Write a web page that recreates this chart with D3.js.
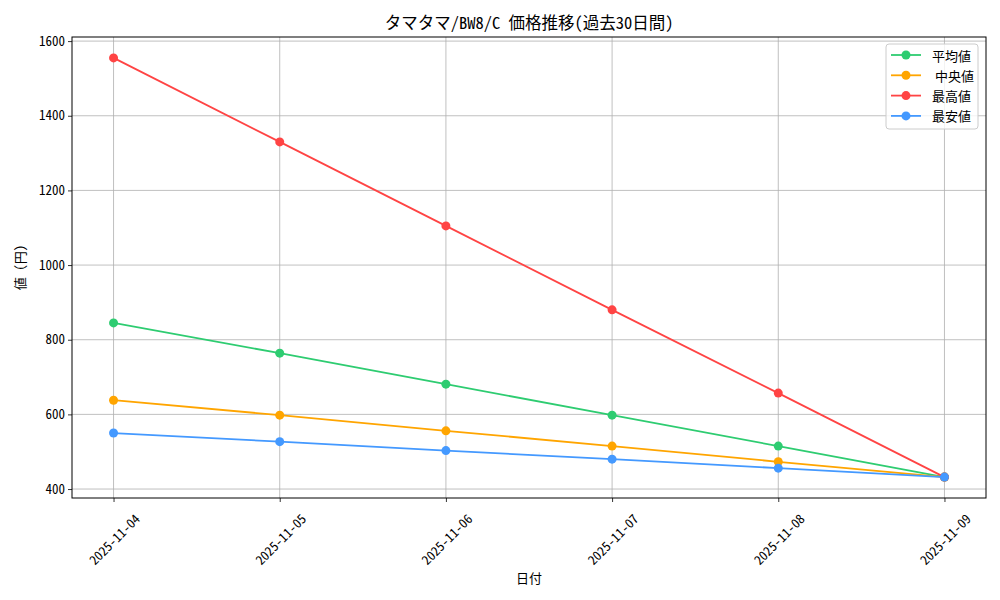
<!DOCTYPE html>
<html><head><meta charset="utf-8">
<script src="https://cdn.jsdelivr.net/npm/d3@7"></script>
<style>body{margin:0;background:#fff}svg{display:block}text{font-family:"Noto Sans CJK JP","DejaVu Sans",sans-serif;fill:#000}.hw{font-feature-settings:"hwid" 1}</style>
</head><body><svg id="c" width="1000" height="600"></svg>
<script>
const dates = ["2025-11-04","2025-11-05","2025-11-06","2025-11-07","2025-11-08","2025-11-09"];
const avgValues = [845, 764, 681, 598, 515, 432];
const medianValues = [638, 598, 556, 515, 473, 432];
const maxValues = [1555, 1330, 1105, 880, 657, 432];
const minValues = [550, 527, 503, 480, 456, 432];
const yTicks = [400, 600, 800, 1000, 1200, 1400, 1600];
const seriesNames = ["平均値", " 中央値", "最高値", "最安値"];
const seriesColors = ["#2ecc71", "#ffa500", "#ff4444", "#4499ff"];
const seriesValues = [avgValues, medianValues, maxValues, minValues];

const svg = d3.select("#c");
const L = 72, R = 986, T = 37, B = 498;
const FS = 13;
const x = d3.scaleLinear().domain([-0.25, dates.length - 1 + 0.25]).range([L, R]);
const y = d3.scaleLinear().domain([376, 1611]).range([B, T]);

// grid
const g = svg.append("g");
g.selectAll(".vg").data(dates).enter().append("line")
  .attr("x1", (d,i)=>x(i)).attr("x2", (d,i)=>x(i)).attr("y1", T).attr("y2", B)
  .attr("stroke", "#b0b0b0").attr("stroke-width", 0.8);
g.selectAll(".hg").data(yTicks).enter().append("line")
  .attr("x1", L).attr("x2", R).attr("y1", d=>y(d)).attr("y2", d=>y(d))
  .attr("stroke", "#b0b0b0").attr("stroke-width", 0.8);

// axes
const xAxis = d3.axisBottom(x).tickValues(d3.range(dates.length)).tickFormat(i=>dates[i]).tickSize(4).tickPadding(3);
const xg = svg.append("g").attr("transform", `translate(0,${B})`).call(xAxis);
xg.select(".domain").remove();
xg.selectAll(".tick line").attr("stroke", "#000").attr("stroke-width", 0.8);
xg.selectAll(".tick text").attr("class", "hw").attr("font-size", FS).attr("font-family", '"Noto Sans CJK JP"')
  .attr("text-anchor", "middle").attr("dy", null).attr("y", null)
  .attr("dominant-baseline", "central")
  .attr("transform", "translate(0,41) rotate(-45)");

const yAxis = d3.axisLeft(y).tickValues(yTicks).tickFormat(d3.format("d")).tickSize(4).tickPadding(3);
const yg = svg.append("g").attr("transform", `translate(${L},0)`).call(yAxis);
yg.select(".domain").remove();
yg.selectAll(".tick line").attr("stroke", "#000").attr("stroke-width", 0.8);
yg.selectAll(".tick text").attr("class", "hw").attr("font-size", FS).attr("font-family", '"Noto Sans CJK JP"');

svg.append("rect").attr("x", L).attr("y", T).attr("width", R-L).attr("height", B-T)
  .attr("fill", "none").attr("stroke", "#000").attr("stroke-width", 1);

// lines
const line = d3.line().x((d,i)=>x(i)).y(d=>y(d));
seriesValues.forEach((vals, k) => {
  svg.append("path").datum(vals).attr("d", line).attr("fill", "none")
    .attr("stroke", seriesColors[k]).attr("stroke-width", 1.8);
  svg.selectAll(null).data(vals).enter().append("circle")
    .attr("cx", (d,i)=>x(i)).attr("cy", d=>y(d)).attr("r", 4.5).attr("fill", seriesColors[k]);
});

// title & labels
svg.append("text").attr("class", "hw").attr("x", (L+R)/2).attr("y", 29).attr("text-anchor", "middle")
  .attr("font-size", 16.5).text("タマタマ/BW8/C 価格推移(過去30日間)");
svg.append("text").attr("x", (L+R)/2).attr("y", 583).attr("text-anchor", "middle")
  .attr("font-size", FS).text("日付");
svg.append("text").attr("class", "hw").attr("transform", `translate(25,${(T+B)/2}) rotate(-90)`).attr("text-anchor", "middle")
  .attr("font-size", FS).text("値 (円)");

// legend
const lg = svg.append("g");
lg.append("rect").attr("x", 886).attr("y", 44).attr("width", 92).attr("height", 85).attr("rx", 3)
  .attr("fill", "#fff").attr("fill-opacity", 0.8).attr("stroke", "#cccccc").attr("stroke-width", 1);
seriesNames.forEach((name, k) => {
  const yy = 55 + k * 20.3;
  lg.append("line").attr("x1", 891).attr("x2", 921).attr("y1", yy).attr("y2", yy)
    .attr("stroke", seriesColors[k]).attr("stroke-width", 1.8);
  lg.append("circle").attr("cx", 906).attr("cy", yy).attr("r", 4.5).attr("fill", seriesColors[k]);
  lg.append("text").attr("x", 932).attr("y", yy).attr("dominant-baseline", "central")
    .attr("font-size", FS).attr("xml:space", "preserve").style("white-space", "pre").text(name);
});
</script></body></html>
